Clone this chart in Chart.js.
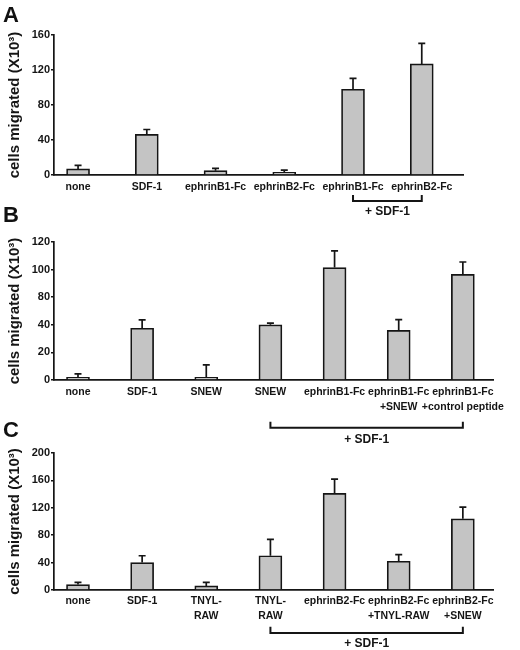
<!DOCTYPE html>
<html><head><meta charset="utf-8">
<script src="https://cdn.jsdelivr.net/npm/chart.js@4.4.1/dist/chart.umd.min.js"></script>
<style>
html,body{margin:0;padding:0;background:#fff;}
body{width:520px;height:650px;position:relative;overflow:hidden;font-family:"Liberation Sans",Arial,sans-serif;}
.wrap{position:absolute;left:0;width:520px;}
.letter{position:absolute;left:3px;font:bold 22px/22px "Liberation Sans",Arial,sans-serif;color:#111;}
</style></head><body>
<div class="wrap" style="top:0px;height:225px"><canvas id="cA" width="520" height="225"></canvas></div>
<div class="wrap" style="top:205px;height:250px"><canvas id="cB" width="520" height="250"></canvas></div>
<div class="wrap" style="top:420px;height:230px"><canvas id="cC" width="520" height="230"></canvas></div>
<div class="letter" style="top:4px">A</div>
<div class="letter" style="top:204px">B</div>
<div class="letter" style="top:419px">C</div>
<script>
// ---- data ----
const yTitle = 'cells migrated (X10³)';
const groupLabel = '+ SDF-1';

const catsA = ['none', 'SDF-1', 'ephrinB1-Fc', 'ephrinB2-Fc', 'ephrinB1-Fc', 'ephrinB2-Fc'];
const valsA = [7, 46.5, 5, 3, 98, 127];
const errsA = [4, 5.5, 2.5, 2.5, 12.5, 23.5];
const ticksA = [0, 40, 80, 120, 160];
const groupA = [4, 5];

const catsB = ['none', 'SDF-1', 'SNEW', 'SNEW', 'ephrinB1-Fc', ['ephrinB1-Fc', '+SNEW'], ['ephrinB1-Fc', '+control peptide']];
const valsB = [2, 37.5, 2, 40, 101.5, 36, 96.5];
const errsB = [2.5, 9.5, 9, 2.5, 12, 11.5, 9];
const ticksB = [0, 20, 40, 80, 100, 120];
const groupB = [3, 6];

const catsC = ['none', 'SDF-1', ['TNYL-', 'RAW'], ['TNYL-', 'RAW'], 'ephrinB2-Fc', ['ephrinB2-Fc', '+TNYL-RAW'], ['ephrinB2-Fc', '+SNEW']];
const valsC = [8, 40, 6, 50, 141, 42, 104];
const errsC = [3, 10, 5, 24, 21, 9.5, 17];
const ticksC = [0, 40, 80, 120, 160, 200];
const groupC = [3, 6];

// ---- helpers ----
const FONT = '"Liberation Sans", Arial, sans-serif';
const INK = '#151515';
// maps a value read in axis-label units onto the evenly spaced tick positions
function toTickPos(v, ticks) {
  for (let i = 1; i < ticks.length; i++) {
    if (v <= ticks[i] || i === ticks.length - 1) {
      return (i - 1) + (v - ticks[i - 1]) / (ticks[i] - ticks[i - 1]);
    }
  }
  return 0;
}

const deco = {
  id: 'deco',
  afterDatasetsDraw(chart, args, o) {
    const {ctx} = chart;
    const x = chart.scales.x, y = chart.scales.y;
    ctx.save();
    ctx.strokeStyle = INK;
    ctx.lineWidth = 1.7;
    o.vals.forEach((v, i) => {
      const px = x.getPixelForValue(i);
      const y0 = y.getPixelForValue(toTickPos(v, o.ticks));
      const y1 = y.getPixelForValue(toTickPos(v + o.errs[i], o.ticks));
      ctx.beginPath();
      ctx.moveTo(px, y0); ctx.lineTo(px, y1);
      ctx.moveTo(px - 3.5, y1); ctx.lineTo(px + 3.5, y1);
      ctx.stroke();
    });
    const b = o.bracket;
    const xl = x.getPixelForValue(b.range[0]), xr = x.getPixelForValue(b.range[1]);
    const base = chart.chartArea.bottom;
    ctx.lineWidth = 2;
    ctx.beginPath();
    ctx.moveTo(xl, base + b.legTop);
    ctx.lineTo(xl, base + b.lineY);
    ctx.lineTo(xr, base + b.lineY);
    ctx.lineTo(xr, base + b.legTop);
    ctx.stroke();
    ctx.font = 'bold 12px ' + FONT;
    ctx.fillStyle = INK;
    ctx.textAlign = 'center';
    ctx.textBaseline = 'middle';
    ctx.fillText(groupLabel, (xl + xr) / 2, base + b.textY);
    ctx.restore();
  }
};

function makeChart(id, cats, vals, errs, tickLabels, group, cfg) {
  return new Chart(document.getElementById(id), {
    type: 'bar',
    data: {
      datasets: [{
        data: vals.map((v, i) => ({x: i, y: toTickPos(v, tickLabels)})),
        backgroundColor: '#c4c4c4',
        borderColor: INK,
        borderWidth: 1.7,
        barThickness: 23
      }]
    },
    options: {
      responsive: false,
      animation: false,
      events: [],
      layout: {padding: {top: cfg.top, left: 0, right: 520 - cfg.right, bottom: 0}},
      plugins: {
        legend: {display: false},
        tooltip: {enabled: false},
        deco: {vals: vals, errs: errs, ticks: tickLabels,
               bracket: Object.assign({range: group}, cfg.bracket)}
      },
      scales: {
        x: {
          type: 'linear',
          offset: false,
          min: cfg.xmin, max: cfg.xmax,
          grid: {display: false, drawTicks: false, offset: false},
          border: {display: true, color: INK, width: 1.7},
          afterBuildTicks: s => { s.ticks = cats.map((c, i) => ({value: i})); },
          afterFit: s => { s.height = cfg.h - cfg.bottom; },
          ticks: {
            autoSkip: false, maxRotation: 0, minRotation: 0,
            padding: cfg.labelPad, color: INK,
            font: {family: FONT, size: 10.5, weight: 'bold', lineHeight: 1.45},
            callback: v => cats[v]
          }
        },
        y: {
          min: 0, max: tickLabels.length - 1,
          afterFit: s => { s.width = 54; },
          grid: {drawOnChartArea: false, drawTicks: true, tickLength: 3, color: INK, lineWidth: 1.5},
          border: {display: true, color: INK, width: 1.7},
          ticks: {
            stepSize: 1, padding: 1, color: INK,
            font: {family: FONT, size: 11, weight: 'bold'},
            callback: v => tickLabels[v]
          },
          title: {
            display: true, text: yTitle, color: INK,
            font: {family: FONT, size: 15, weight: 'bold'},
            padding: {top: 6, bottom: 0}
          }
        }
      }
    },
    plugins: [deco]
  });
}

makeChart('cA', catsA, valsA, errsA, ticksA, groupA, {
  h: 225, top: 35, bottom: 175, right: 463, xmin: -0.35, xmax: 5.6, labelPad: 4,
  bracket: {legTop: 20, lineY: 26, textY: 36.7}
});
makeChart('cB', catsB, valsB, errsB, ticksB, groupB, {
  h: 250, top: 37, bottom: 175, right: 493, xmin: -0.374, xmax: 6.47, labelPad: 4,
  bracket: {legTop: 41.7, lineY: 47.7, textY: 60}
});
makeChart('cC', catsC, valsC, errsC, ticksC, groupC, {
  h: 230, top: 33, bottom: 170, right: 493, xmin: -0.374, xmax: 6.47, labelPad: 3,
  bracket: {legTop: 36.7, lineY: 43, textY: 54}
});
</script>
</body></html>
